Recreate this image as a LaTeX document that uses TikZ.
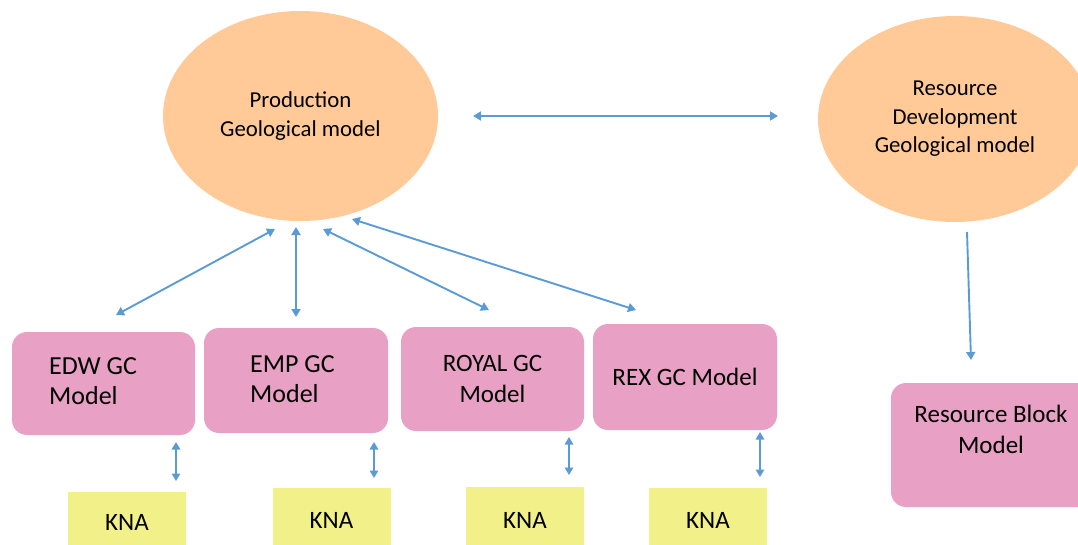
\documentclass[tikz,border=0pt]{standalone}
\usepackage{fontspec}
\setmainfont{Carlito}
\usetikzlibrary{shapes.geometric,arrows.meta}
\definecolor{peach}{HTML}{FFCA98}
\definecolor{pinkbox}{HTML}{E8A1C5}
\definecolor{yellowbox}{HTML}{F2F089}
\definecolor{arrowblue}{HTML}{5B9BD5}
\tikzset{
  oval/.style={ellipse, fill=peach, inner sep=0pt, align=center,
    font=\fontsize{22.8}{28.5}\selectfont},
  gcbox/.style={rectangle, rounded corners=15pt, fill=pinkbox, inner sep=0pt,
    font=\fontsize{26}{31}\selectfont},
  gctext/.style={inner sep=0pt, align=left, anchor=west,
    font=\fontsize{26}{30}\selectfont},
  knabox/.style={rectangle, fill=yellowbox, inner sep=0pt,
    font=\fontsize{25}{28}\selectfont},
  biarrow/.style={draw=arrowblue, line width=1.9pt,
    {Triangle[width=9pt,length=8pt]}-{Triangle[width=9pt,length=8pt]}},
  smallbiarrow/.style={draw=arrowblue, line width=1.6pt,
    {Triangle[width=8.5pt,length=7.5pt]}-{Triangle[width=8.5pt,length=7.5pt]}},
  onearrow/.style={draw=arrowblue, line width=1.9pt,
    -{Triangle[width=9pt,length=8pt]}}
}
\begin{document}
\begin{tikzpicture}[x=1pt,y=-1pt]
\useasboundingbox (0,0) rectangle (1078,544);
% ellipses
\node[oval, minimum width=275pt, minimum height=210pt] (prod) at (300.5,116) {Production\\Geological model};
\node[oval, minimum width=274pt, minimum height=206pt] (res) at (955,119) {Resource\\Development\\Geological model};
% GC boxes
\node[gcbox, minimum width=183pt, minimum height=103pt] (edw) at (103.5,383.5) {};
\node[gctext] (edwt) at (49,381) {EDW GC\\Model};
\node[gcbox, minimum width=184pt, minimum height=105pt] (emp) at (296,380.5) {};
\node[gctext] (empt) at (250,379) {EMP GC\\Model};
\node[gcbox, minimum width=183pt, minimum height=104pt, align=center, font=\fontsize{25}{31}\selectfont] (royal) at (492.5,379) {ROYAL GC\\Model};
\node[gcbox, minimum width=184pt, minimum height=106pt, font=\fontsize{25}{31}\selectfont] (rex) at (685,377) {REX GC Model};
\node[gcbox, minimum width=200pt, minimum height=124pt, align=center, font=\fontsize{25}{31.5}\selectfont] (rbm) at (991,445) {Resource Block\\Model\\\mbox{}};
% KNA boxes
\node[knabox, minimum width=118pt, minimum height=60pt] (k1) at (127,522) {KNA};
\node[knabox, minimum width=118pt, minimum height=64pt] (k2) at (331.5,520) {KNA};
\node[knabox, minimum width=118pt, minimum height=66pt] (k3) at (525,520) {KNA};
\node[knabox, minimum width=118pt, minimum height=64pt] (k4) at (708,520) {KNA};
% arrow end points
\coordinate (h1) at (473,116);
\coordinate (h2) at (778,116);
\coordinate (pa) at (275,229);
\coordinate (ea) at (116,315);
\coordinate (pb) at (296,227);
\coordinate (eb) at (296,317);
\coordinate (pc) at (323,229);
\coordinate (ec) at (489,310);
\coordinate (pd) at (352,219);
\coordinate (ed) at (636,310);
\coordinate (ra) at (967,232);
\coordinate (rb) at (971,360);
\coordinate (s1a) at (176,442);
\coordinate (s1b) at (176,481);
\coordinate (s2a) at (374,442);
\coordinate (s2b) at (374,478);
\coordinate (s3a) at (569,437);
\coordinate (s3b) at (569,475);
\coordinate (s4a) at (760,432);
\coordinate (s4b) at (760,477);
% connectors
\draw[biarrow] (h1) -- (h2);
\draw[biarrow] (pa) -- (ea);
\draw[biarrow] (pb) -- (eb);
\draw[biarrow] (pc) -- (ec);
\draw[biarrow] (pd) -- (ed);
\draw[onearrow] (ra) -- (rb);
\draw[smallbiarrow] (s1a) -- (s1b);
\draw[smallbiarrow] (s2a) -- (s2b);
\draw[smallbiarrow] (s3a) -- (s3b);
\draw[smallbiarrow] (s4a) -- (s4b);
\end{tikzpicture}
\end{document}
